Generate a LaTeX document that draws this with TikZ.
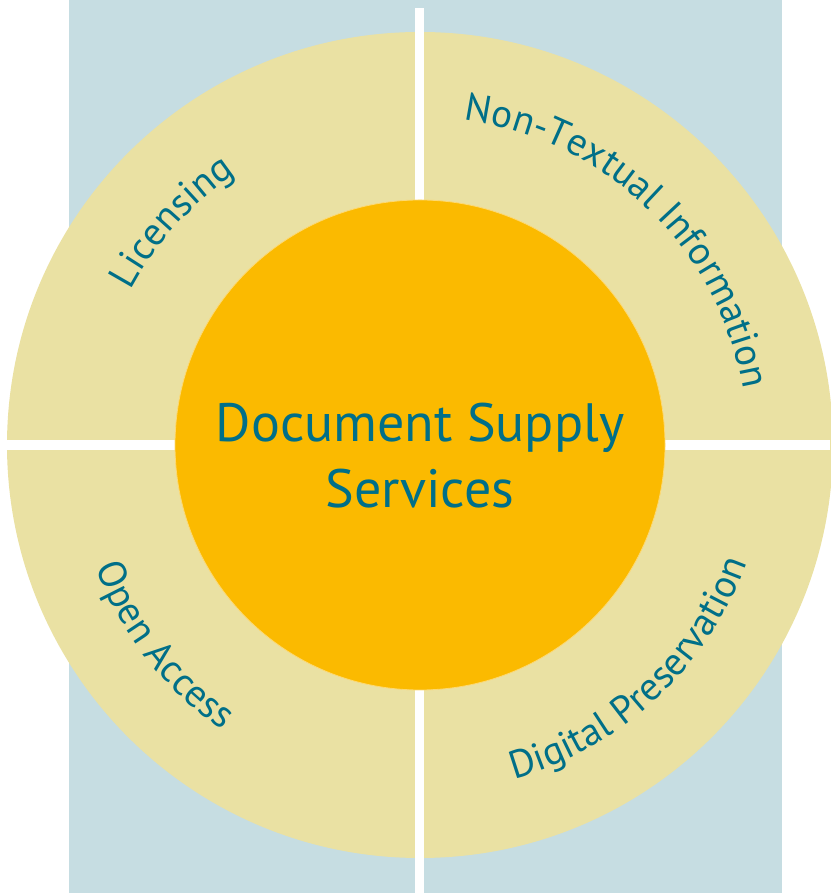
\documentclass[tikz,border=0pt]{standalone}
\usepackage{fontspec}
\setmainfont{PT Sans}
\usetikzlibrary{decorations.text}
\definecolor{fondbleu}{HTML}{C6DDE2}
\definecolor{paille}{HTML}{EAE1A3}
\definecolor{soleil}{HTML}{FBBA00}
\definecolor{encre}{HTML}{006F88}
\newcommand{\arcfont}{\fontsize{39}{43}\selectfont}

\begin{document}
\begin{tikzpicture}[x=1pt,y=1pt]
% Styles des disques, des barres et des textes courbes
\tikzstyle{disque}=[circle,inner sep=0pt,draw=none]
\tikzstyle{barre}=[fill=white]
\tikzstyle{titre}=[text=encre,anchor=base,font=\fontsize{54}{60}\selectfont]
\tikzstyle{arctexte}=[decorate,decoration={text along path,text align=center,
                      text color=encre,text format delimiters={|}{|}}]

\useasboundingbox (0,0) rectangle (830,893);

% Fond bleu et anneau
\fill[fondbleu] (69,0) rectangle (782,893);
\coordinate (c) at (420,448);
\node[disque,fill=paille,minimum size=826pt] (anneau) at (c) {};

% Les barres blanches qui coupent l'anneau
\fill[barre] (415,0) rectangle (424,885);
\fill[barre] (0,443) rectangle (830,453);

% Le disque central
\node[disque,fill=soleil,draw=soleil!55!white,line width=0.8pt,minimum size=490pt] (coeur) at (c) {};
\node[titre] (ligne1) at (420,451) {Document Supply};
\node[titre] (ligne2) at (420,385) {Services};

% Textes le long des arcs (en haut : sens horaire, en bas : sens direct)
\path[arctexte,decoration={text={|\arcfont|Licensing}}]
    (c) ++(188:328) arc[start angle=188,end angle=88,radius=328];
\path[arctexte,decoration={text={|\arcfont|Non-Textual Information}}]
    (c) ++(106:328) arc[start angle=106,end angle=-14,radius=328];
\path[arctexte,decoration={text={|\arcfont|Open Access}}]
    (c) ++(168:347) arc[start angle=168,end angle=268,radius=347];
\path[arctexte,decoration={text={|\arcfont|Digital Preservation}}]
    (c) ++(253:347) arc[start angle=253,end angle=373,radius=347];
\end{tikzpicture}
\end{document}
